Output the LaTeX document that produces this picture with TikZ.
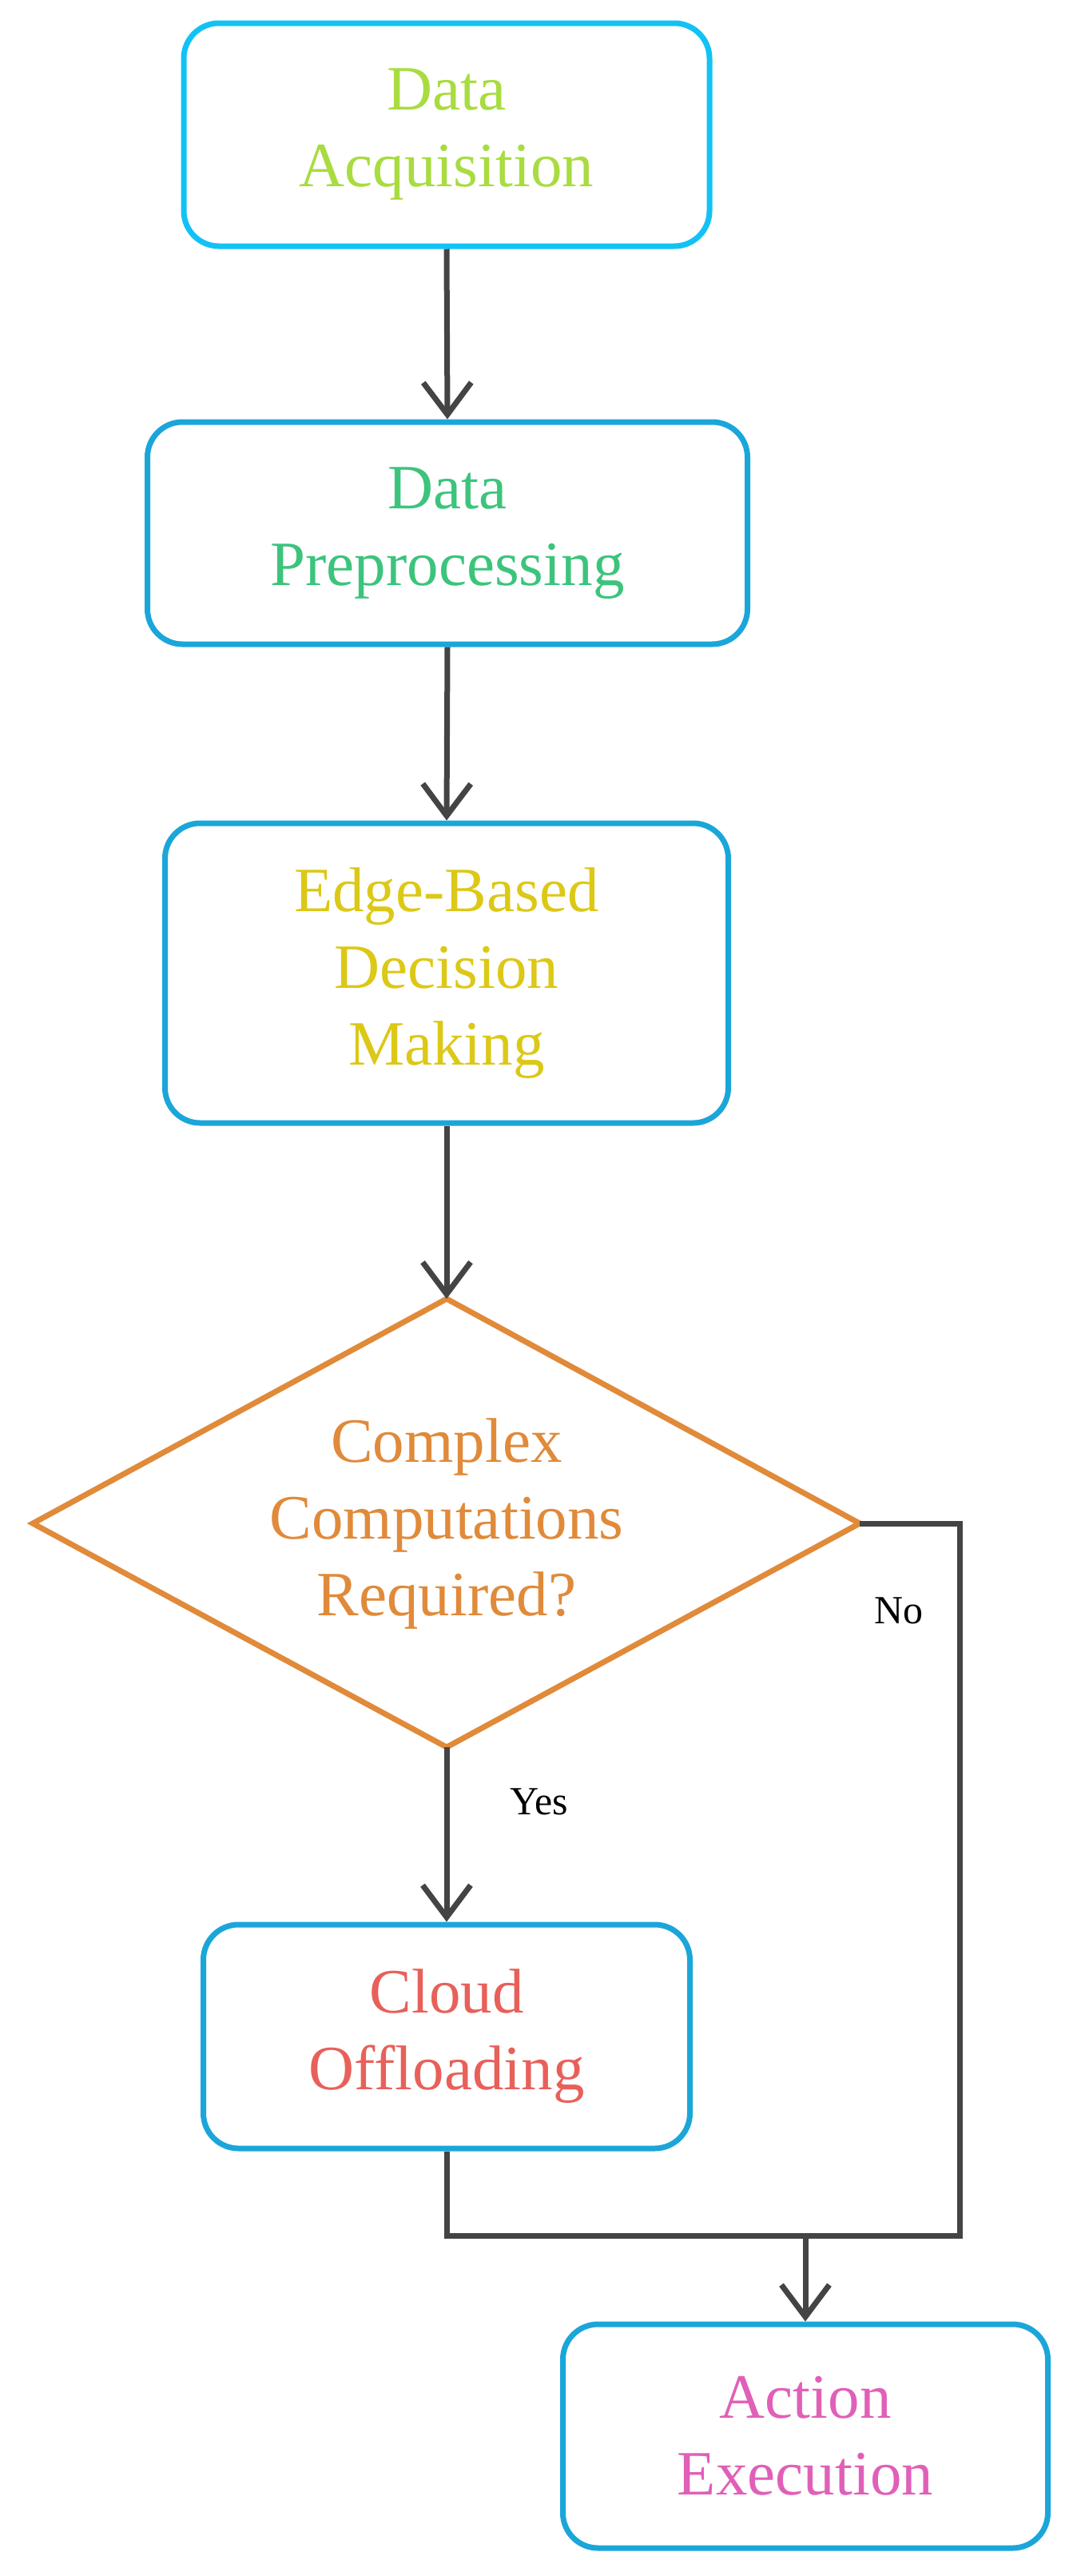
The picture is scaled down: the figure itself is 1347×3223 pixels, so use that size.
\documentclass[tikz,border=0pt]{standalone}
\usepackage{fontspec}
\setmainfont{Liberation Serif}
\usetikzlibrary{arrows.meta}
\definecolor{boxblue}{HTML}{1BA6DA}
\definecolor{boxcyan}{HTML}{12C2F5}
\definecolor{linegray}{HTML}{444444}
\definecolor{cA}{HTML}{A8DC40}
\definecolor{cB}{HTML}{3CC47C}
\definecolor{cC}{HTML}{DCC816}
\definecolor{cD}{HTML}{E08A3A}
\definecolor{cE}{HTML}{E8605A}
\definecolor{cF}{HTML}{E060B8}
\begin{document}
\begin{tikzpicture}[x=1pt,y=-1pt,
  stepbox/.style={draw=boxblue,line width=7pt,rounded corners=44pt,align=center,inner sep=0pt,
    font=\fontsize{79}{96}\selectfont},
  decisiontext/.style={align=center,inner sep=0pt,font=\fontsize{79}{96}\selectfont},
  conn/.style={draw=linegray,line width=7pt,line join=miter},
  arr/.style={conn,-{Straight Barb[length=40pt,width=60pt,line width=7pt]}},
  lbl/.style={font=\fontsize{50}{60}\selectfont,text=black}]
\useasboundingbox (0,0) rectangle (1347,3223);
\node[stepbox,draw=boxcyan,text=cA,minimum width=658pt,minimum height=279pt] (acq) at (559,168.5) {Data\\Acquisition};
\node[stepbox,text=cB,minimum width=751pt,minimum height=278pt] (pre) at (560,667) {Data\\Preprocessing};
\node[stepbox,text=cC,minimum width=705pt,minimum height=375pt] (edge) at (559,1217.5) {Edge-Based\\Decision\\Making};
% decision diamond
\coordinate (decn) at (559,1625);
\coordinate (dece) at (1076,1906);
\coordinate (decs) at (559,2186);
\coordinate (decw) at (41,1906);
\draw[draw=cD,line width=7pt,line join=miter] (decn) -- (dece) -- (decs) -- (decw) -- cycle;
\node[decisiontext,text=cD] (dec) at (559,1906) {Complex\\Computations\\Required?};
\node[stepbox,text=cE,minimum width=609pt,minimum height=280pt] (cloud) at (559,2548) {Cloud\\Offloading};
\node[stepbox,text=cF,minimum width=607pt,minimum height=280pt] (act) at (1008,3048) {Action\\Execution};
\coordinate (merge) at (1008,2797);
\coordinate (nocorner) at (1201,1906);
\coordinate (nobottom) at (1201,2797);
\draw[arr] (acq.south) -- (pre.north);
\draw[arr] (pre.south) -- (edge.north);
\draw[arr] (edge.south) -- (decn);
\draw[arr] (decs) -- (cloud.north);
\draw[conn] (cloud.south) |- (nobottom) -- (nocorner) -- (dece);
\draw[arr] (merge) -- (act.north);
\node[lbl] (yes) at (675,2254) {Yes};
\node[lbl] (no) at (1125,2015) {No};
\end{tikzpicture}
\end{document}
